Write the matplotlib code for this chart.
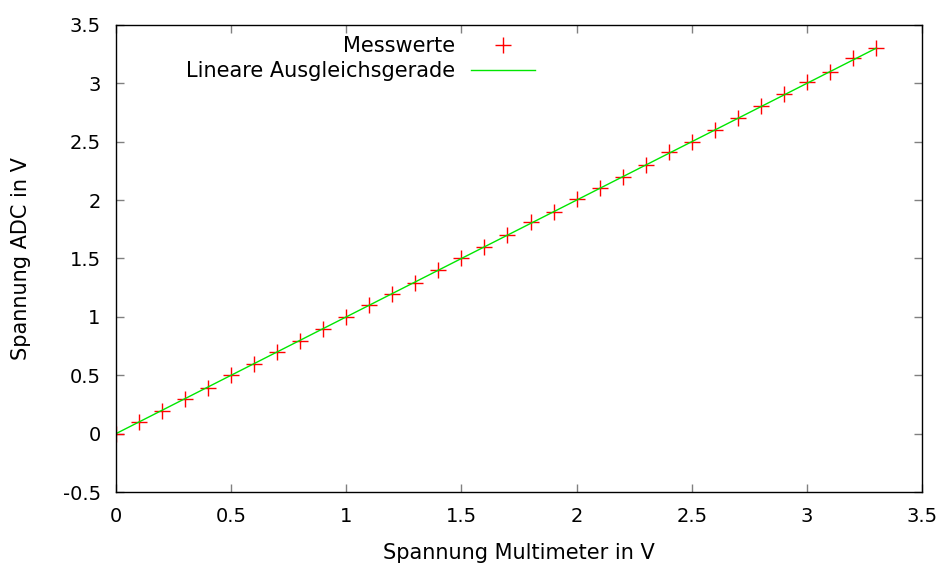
import numpy as np
import matplotlib.pyplot as plt
from matplotlib.ticker import MultipleLocator, FormatStrFormatter

plt.rcParams['axes.unicode_minus'] = False
plt.rcParams['font.family'] = 'DejaVu Sans'

# Messwerte: Multimeter vs. ADC (V)
u_multi = [0.0, 0.1, 0.2, 0.3, 0.4, 0.5, 0.6, 0.7, 0.8, 0.9, 1.0, 1.1,
           1.2, 1.3, 1.4, 1.5, 1.6, 1.7, 1.8, 1.9, 2.0, 2.1, 2.2, 2.3,
           2.4, 2.5, 2.6, 2.7, 2.8, 2.9, 3.0, 3.1, 3.2, 3.3]
u_adc = [0.0, 0.10, 0.19, 0.30, 0.39, 0.50, 0.60, 0.70, 0.79, 0.90, 1.00, 1.10,
         1.20, 1.29, 1.40, 1.50, 1.60, 1.70, 1.81, 1.90, 2.01, 2.10, 2.20, 2.30,
         2.41, 2.50, 2.60, 2.70, 2.81, 2.91, 3.01, 3.10, 3.22, 3.30]

# Ausgleichsgerade y = m*x + b
m = 1.0
b = 0.0
fit_x = [0.0, 3.3]

fig = plt.figure(figsize=(9.44, 5.65), dpi=100)
ax = fig.add_axes([0.1229, 0.1292, 0.8538, 0.8266])

ax.plot(u_multi, u_adc, linestyle='none', marker='+', color='red',
        markersize=12, markeredgewidth=1.0, label='Messwerte')
fx = np.array(fit_x)
ax.plot(fx, m * fx + b, color='#00e600', linewidth=1.0,
        label='Lineare Ausgleichsgerade')

ax.set_xlim(0, 3.5)
ax.set_ylim(-0.5, 3.5)
ax.xaxis.set_major_locator(MultipleLocator(0.5))
ax.yaxis.set_major_locator(MultipleLocator(0.5))
ax.xaxis.set_major_formatter(FormatStrFormatter('%g'))
ax.yaxis.set_major_formatter(FormatStrFormatter('%g'))
ax.tick_params(direction='in', length=6, width=1, color='gray',
               top=True, right=True, labelsize=14, pad=11)
for s in ax.spines.values():
    s.set_linewidth(1)

ax.set_xlabel('Spannung Multimeter in V', fontsize=15, labelpad=12)
ax.set_ylabel('Spannung ADC in V', fontsize=15, labelpad=23)

ax.legend(loc='upper right', bbox_to_anchor=(0.52, 0.976), frameon=False,
          markerfirst=False, fontsize=15, handlelength=3.1,
          handletextpad=0.72, labelspacing=0.25, borderpad=0,
          borderaxespad=0)

fig.savefig('out.png', dpi=100)
